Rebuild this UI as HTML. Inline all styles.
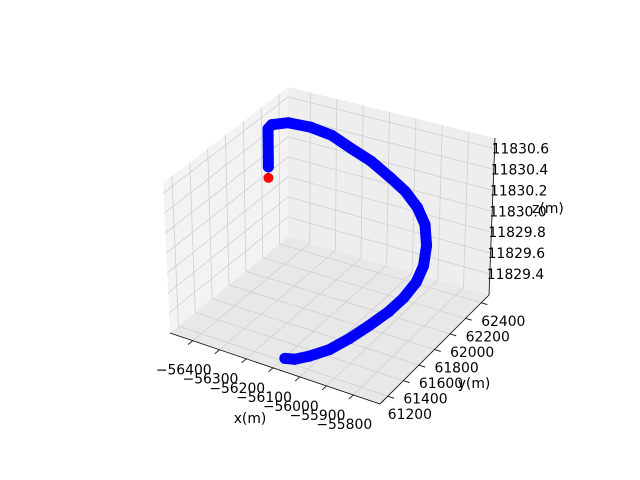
<!DOCTYPE html>
<html><head><meta charset="utf-8"><style>
html,body{margin:0;padding:0;background:#fff}
svg{display:block}
text{font-family:"DejaVu Sans","Liberation Sans",sans-serif;font-size:13.9px;fill:#000}
</style></head><body>
<svg id="chart" width="640" height="480" viewBox="0 0 640 480">
<g id="panes"></g><g id="grid"></g><g id="axes"></g><g id="series"></g>
</svg>
<script>
const xs=[-56462,-56462,-56462,-56462,-56462,-56462,-56459,-56420,-56355,-56280,-56202,-56123,-56038,-55967,-55895,-55833,-55781,-55742,-55739,-55750,-55776,-55817,-55861,-55910,-55972,-56030,-56087];
const ys=[62206,62206,62206,62206,62206,62206,62240,62308,62366,62382,62380,62367,62335,62284,62207,62102,61955,61792,61694,61572,61474,61362,61260,61177,61135,61142,61205];
const zs=[11830.01,11830.12,11830.22,11830.33,11830.43,11830.50,11830.52,11830.52,11830.48,11830.44,11830.36,11830.30,11830.22,11830.18,11830.13,11830.09,11830.04,11830.00,11829.92,11829.85,11829.77,11829.68,11829.59,11829.50,11829.41,11829.32,11829.23];
const xTicks=[-56400,-56300,-56200,-56100,-56000,-55900,-55800];
const yTicks=[61200,61400,61600,61800,62000,62200,62400];
const zTicks=[11829.4,11829.6,11829.8,11830.0,11830.2,11830.4,11830.6];
const xLabels=["\u221256400","\u221256300","\u221256200","\u221256100","\u221256000","\u221255900","\u221255800"];
const yLabels=["61200","61400","61600","61800","62000","62200","62400"];
const zLabels=["11829.4","11829.6","11829.8","11830.0","11830.2","11830.4","11830.6"];
const xr=[-56485,-55700], yr=[61100,62500], zr=[11829.2,11830.7];
const F={a:[170,333],b:[380,404],c:[489,295],d:[288,237]};
const T={a:[163,183],b:[377,258],c:[495,138],d:[288,87]};
function bil(q,u,v){return[
 q.a[0]*(1-u)*(1-v)+q.b[0]*u*(1-v)+q.c[0]*u*v+q.d[0]*(1-u)*v,
 q.a[1]*(1-u)*(1-v)+q.b[1]*u*(1-v)+q.c[1]*u*v+q.d[1]*(1-u)*v]}
function P(u,v,w){const f=bil(F,u,v),t=bil(T,u,v);return[f[0]+(t[0]-f[0])*w,f[1]+(t[1]-f[1])*w]}
const ux=x=>(x-xr[0])/(xr[1]-xr[0]), vy=y=>(y-yr[0])/(yr[1]-yr[0]), wz=z=>(z-zr[0])/(zr[1]-zr[0]);
const NS="http://www.w3.org/2000/svg";
function mk(tag,attrs,parent){const e=document.createElementNS(NS,tag);for(const k in attrs)e.setAttribute(k,attrs[k]);document.getElementById(parent).appendChild(e);return e}
const pts=a=>a.map(p=>p.join(',')).join(' ');
let e;
e=mk('polygon',{points:pts([P(0,0,0),P(0,1,0),P(0,1,1),P(0,0,1)]),fill:'#f3f3f3'},'panes');


e=mk('polygon',{points:pts([P(0,1,0),P(1,1,0),P(1,1,1),P(0,1,1)]),fill:'#eeeeee'},'panes');


e=mk('polygon',{points:pts([P(0,0,0),P(1,0,0),P(1,1,0),P(0,1,0)]),fill:'#e8e8e8'},'panes');


const gs={stroke:'#d0d0d0','stroke-width':0.8,fill:'none'};
function line(a,b,at,par){return mk('line',Object.assign({x1:a[0],y1:a[1],x2:b[0],y2:b[1]},at),par)}
xTicks.forEach(t=>{const u=ux(t);
 e=line(P(u,0,0),P(u,1,0),gs,'grid');
 e=line(P(u,1,0),P(u,1,1),gs,'grid');});
yTicks.forEach(t=>{const v=vy(t);
 e=line(P(0,v,0),P(1,v,0),gs,'grid');
 e=line(P(0,v,0),P(0,v,1),gs,'grid');});
zTicks.forEach(t=>{const w=wz(t);
 e=line(P(0,0,w),P(0,1,w),gs,'grid');
 e=line(P(0,1,w),P(1,1,w),gs,'grid');});
const as={stroke:'#000','stroke-width':0.8};
e=line(P(0,0,0),P(1,0,0),as,'axes');
e=line(P(1,0,0),P(1,1,0),as,'axes');
e=line(P(1,1,0),P(1,1,1),as,'axes');
xTicks.forEach((t,i)=>{const u=ux(t),a=P(u,0,0),b=P(u,-0.04,0);
 e=line(a,b,as,'axes');
 e=mk('text',{x:a[0]-9,y:a[1]+34,'text-anchor':'middle'},'axes');e.textContent=xLabels[i];
 });
yTicks.forEach((t,i)=>{const v=vy(t),a=P(1,v,0),b=P(1.03,v,0);
 e=line(a,b,as,'axes');
 e=mk('text',{x:a[0],y:a[1]+23,'text-anchor':'start'},'axes');e.textContent=yLabels[i];
 });
zTicks.forEach((t,i)=>{const w=wz(t),a=P(1,1,w);
 e=mk('text',{x:a[0]-3,y:a[1]+5,'text-anchor':'start'},'axes');e.textContent=zLabels[i];
 });
e=mk('text',{x:250,y:423,'text-anchor':'middle'},'axes');e.textContent='x(m)';

e=mk('text',{x:474,y:388,'text-anchor':'middle'},'axes');e.textContent='y(m)';

e=mk('text',{x:548,y:213,'text-anchor':'middle'},'axes');e.textContent='z(m)';

const sp=xs.map((x,i)=>P(ux(x),vy(ys[i]),wz(zs[i])));
e=mk('polyline',{points:pts(sp.slice(1)),fill:'none',stroke:'#0000ff','stroke-width':11,'stroke-linecap':'round','stroke-linejoin':'round'},'series');


sp.forEach((p,i)=>{if(i===0)return;
 e=mk('circle',{cx:p[0],cy:p[1],r:5.5,fill:'#0000ff'},'series');
 
 });
e=mk('circle',{cx:sp[0][0],cy:sp[0][1],r:5,fill:'#ff0000'},'series');


</script>
</body></html>
